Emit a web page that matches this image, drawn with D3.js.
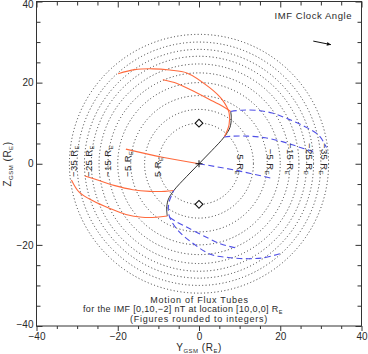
<!DOCTYPE html>
<html><head><meta charset="utf-8">
<script src="https://cdn.jsdelivr.net/npm/d3@7"></script>
<style>
body{margin:0;background:#fff}
svg{display:block}
text{font-family:"Liberation Sans",Arial,sans-serif;fill:#2a2a2a}
</style>
</head><body>
<svg id="c" width="368" height="354"></svg>
<script>
// ---- data ----
const xDomain = [-40, 40];
const yDomain = [-40, 40];
const tickMajor = [-40, -20, 0, 20, 40];
const tickMinor = [-35, -30, -25, -15, -10, -5, 5, 10, 15, 25, 30, 35];
const circleX = [10, 5, 0, -5, -10, -15, -20, -25, -30, -35];
const circleR = [10, 13.4, 16.8, 20.0, 22.4, 24.6, 26.5, 28.2, 30.0, 31.9];
const labelX = [5, -5, -15, -25, -35];
const labelR = [10.2, 17.6, 22.4, 27.1, 30.8];
const diamonds = [[0, 10], [0, -10]];
const imf = [0, 10, -2];
const location0 = [10, 0, 0];
const arrowCenter = [30.3, 29.8];

const orangeOuter = [[-19.9,22.2],[-15.8,23.2],[-11.4,23.4],[-7.2,23.1],[-3.0,22.4],[2.7,18.7],[5.7,15.8],[7.4,12.6],[7.4,9.6],[6.2,6.6]];
const orangeInner = [[-8.9,20.7],[-5.4,19.8],[-2.2,18.3],[2.7,15.8],[5.9,14.1],[7.8,12.9]];
const orangeLowOuter = [[-7.8,-12.9],[-10.5,-13.2],[-14,-13.2],[-18,-12.5],[-22,-11],[-26,-9.2],[-29.5,-7],[-31.4,-4]];
const orangeLowInner = [[-6.2,-6.6],[-8.4,-6.8],[-12.1,-6.8],[-16.3,-6.4],[-20.7,-5.4],[-24.4,-4.2],[-28.1,-3]];
const orangeCenter = [[0,0],[-9,1.6],[-18,3.6]];

const blueOuter = [[7.8,12.9],[10.5,13.2],[14,13.2],[18,12.5],[22,11],[26,9.2],[29.5,7],[31.4,4]];
const blueInner = [[6.2,6.6],[8.4,6.8],[12.1,6.8],[16.3,6.4],[20.7,5.4],[24.4,4.2],[28.1,3]];
const blueLowOuter = [[19.9,-22.2],[15.8,-23.2],[11.4,-23.4],[7.2,-23.1],[3.0,-22.4],[-2.7,-18.7],[-5.7,-15.8],[-7.4,-12.6],[-7.4,-9.6],[-6.2,-6.6]];
const blueLowInner = [[8.9,-20.7],[5.4,-19.8],[2.2,-18.3],[-2.7,-15.8],[-5.9,-14.1],[-7.8,-12.9]];
const blueCenter = [[0,0],[9,-1.6],[18,-3.6]];

const blackLine = [[-7.8,-12.9],[-7.95,-11.2],[-7.6,-8.9],[-6.2,-6.6],[-3.1,-3.2],[0,0],[3.1,3.2],[6.2,6.6],[7.6,8.9],[7.95,11.2],[7.8,12.9]];

const titleLines = ["Motion of Flux Tubes", "for the IMF [0,10,\u22122] nT at location [10,0,0] R", "(Figures rounded to integers)"];

// ---- chart ----
const svg = d3.select("#c");
const x = d3.scaleLinear().domain(xDomain).range([36.5, 361.5]);
const y = d3.scaleLinear().domain(yDomain).range([326, 1.5]);
const fmt = d => d < 0 ? "\u2212" + Math.abs(d) : String(d);

// circles
svg.append("g").selectAll("ellipse").data(circleR).join("ellipse")
  .attr("cx", x(0)).attr("cy", y(0))
  .attr("rx", r => x(r) - x(0)).attr("ry", r => y(0) - y(r))
  .attr("fill", "none").attr("stroke", "#333").attr("stroke-width", 1)
  .attr("stroke-dasharray", "1 2.4");

const line = d3.line().x(d => x(d[0])).y(d => y(d[1])).curve(d3.curveCatmullRom.alpha(0.5));

svg.append("path").attr("d", line(blackLine)).attr("fill", "none").attr("stroke", "#333").attr("stroke-width", 1);

const orange = "#ff6a3d", blue = "#5050e6";
[orangeOuter, orangeInner, orangeLowOuter, orangeLowInner, orangeCenter].forEach(c =>
  svg.append("path").attr("d", line(c)).attr("fill", "none").attr("stroke", orange).attr("stroke-width", 1.1));
[blueOuter, blueInner, blueLowOuter, blueLowInner, blueCenter].forEach(c =>
  svg.append("path").attr("d", line(c)).attr("fill", "none").attr("stroke", blue).attr("stroke-width", 1.1).attr("stroke-dasharray", "6 3.5"));

// diamonds
svg.append("g").selectAll("path").data(diamonds).join("path")
  .attr("d", d3.symbol(d3.symbolSquare, 30))
  .attr("transform", d => `translate(${x(d[0])},${y(d[1])}) rotate(45)`)
  .attr("fill", "#fff").attr("stroke", "#111").attr("stroke-width", 1.1);

// plus at origin
const pl = svg.append("g").attr("stroke", "#111").attr("stroke-width", 1);
pl.append("line").attr("x1", x(0) - 3.5).attr("x2", x(0) + 3.5).attr("y1", y(0)).attr("y2", y(0));
pl.append("line").attr("x1", x(0)).attr("x2", x(0)).attr("y1", y(0) - 3.5).attr("y2", y(0) + 3.5);

// circle labels
function addRE(t, prefix, sub, subSize, shift) {
  t.append("tspan").text(prefix);
  t.append("tspan").attr("font-size", subSize).attr("dy", shift).text(sub);
}
labelX.forEach((lx, i) => {
  const xl = x(-labelR[i]) + 3.4, yl = 177;
  const t1 = svg.append("text").attr("x", xl).attr("y", yl).attr("font-size", "9.5px").attr("letter-spacing", "0.4px")
    .attr("text-anchor", "start").attr("transform", `rotate(-90,${xl},${yl})`);
  addRE(t1, fmt(lx) + " R", "E", "6px", 2);
  const xr = x(labelR[i]) - 3.4, yr = 175;
  const t2 = svg.append("text").attr("x", xr).attr("y", yr).attr("font-size", "9.5px").attr("letter-spacing", "0.4px")
    .attr("text-anchor", "end").attr("transform", `rotate(90,${xr},${yr})`);
  addRE(t2, fmt(lx) + " R", "E", "6px", 2);
});

// IMF clock angle
svg.append("text").attr("x", 352).attr("y", 18.5).attr("text-anchor", "end")
  .attr("font-size", "9.5px").attr("letter-spacing", "0.55px").text("IMF Clock Angle");
{
  const len = Math.hypot(imf[1], imf[2]);
  const ux = imf[1] / len, uy = -imf[2] / len; // screen direction
  const cx = x(arrowCenter[0]), cy = y(arrowCenter[1]), L = 9;
  const x1 = cx - ux * L, y1 = cy - uy * L, x2 = cx + ux * L, y2 = cy + uy * L;
  svg.append("line").attr("x1", x1).attr("y1", y1).attr("x2", x2).attr("y2", y2).attr("stroke", "#111").attr("stroke-width", 1);
  const hx = -ux, hy = -uy, px = -uy, py = ux, hl = 4, hw = 2;
  svg.append("path").attr("d", `M${x2},${y2}L${x2 + hx*hl + px*hw},${y2 + hy*hl + py*hw}L${x2 + hx*hl - px*hw},${y2 + hy*hl - py*hw}Z`).attr("fill", "#111");
}

// title block
svg.append("text").attr("x", 199.5).attr("y", 303).attr("text-anchor", "middle")
  .attr("font-size", "9px").attr("letter-spacing", "0.75px").text(titleLines[0]);
{
  const t = svg.append("text").attr("x", 83).attr("y", 312.3).attr("text-anchor", "start")
    .attr("font-size", "9px").attr("letter-spacing", "0.35px");
  addRE(t, titleLines[1], "E", "5.5px", 2);
}
svg.append("text").attr("x", 199).attr("y", 321.5).attr("text-anchor", "middle")
  .attr("font-size", "9px").attr("letter-spacing", "0.75px").text(titleLines[2]);

// axes
const axCol = "#333";
function styleAxis(g) {
  g.select(".domain").remove();
  g.selectAll("line").attr("stroke", axCol);
  g.selectAll("text").attr("font-size", "10px").attr("font-family", "Liberation Sans, Arial, sans-serif").attr("fill", "#2a2a2a");
}
svg.append("g").attr("transform", `translate(0,${y(-40)})`)
  .call(d3.axisBottom(x).tickValues(tickMajor).tickFormat(fmt).tickSize(5).tickPadding(2)).call(styleAxis);
svg.append("g").attr("transform", `translate(0,${y(-40)})`)
  .call(d3.axisBottom(x).tickValues(tickMinor).tickFormat("").tickSize(3)).call(styleAxis);
svg.append("g").attr("transform", `translate(0,${y(40)})`)
  .call(d3.axisTop(x).tickValues(tickMajor).tickFormat("").tickSize(-6)).call(styleAxis);
svg.append("g").attr("transform", `translate(0,${y(40)})`)
  .call(d3.axisTop(x).tickValues(tickMinor).tickFormat("").tickSize(-4)).call(styleAxis);
const yAxG = svg.append("g").attr("transform", `translate(${x(-40)},0)`)
  .call(d3.axisLeft(y).tickValues(tickMajor).tickFormat(fmt).tickSize(-6).tickPadding(3)).call(styleAxis);
// keep the end labels inside the canvas, as in the reference
yAxG.selectAll(".tick").filter(d => d === 40).select("text").attr("dy", "0.62em");
yAxG.selectAll(".tick").filter(d => d === -40).select("text").attr("dy", "0.1em");
svg.append("g").attr("transform", `translate(${x(-40)},0)`)
  .call(d3.axisLeft(y).tickValues(tickMinor).tickFormat("").tickSize(-4)).call(styleAxis);
svg.append("g").attr("transform", `translate(${x(40)},0)`)
  .call(d3.axisRight(y).tickValues(tickMajor).tickFormat("").tickSize(-6)).call(styleAxis);
svg.append("g").attr("transform", `translate(${x(40)},0)`)
  .call(d3.axisRight(y).tickValues(tickMinor).tickFormat("").tickSize(-4)).call(styleAxis);
svg.append("rect").attr("x", x(-40)).attr("y", y(40)).attr("width", x(40) - x(-40)).attr("height", y(-40) - y(40))
  .attr("fill", "none").attr("stroke", axCol).attr("stroke-width", 1);

// axis titles
{
  const t = svg.append("text").attr("x", 199).attr("y", 351).attr("text-anchor", "middle")
    .attr("font-size", "10px").attr("letter-spacing", "0.5px");
  t.append("tspan").text("Y");
  t.append("tspan").attr("font-size", "6px").attr("dy", 2).text("GSM");
  t.append("tspan").attr("dy", -2).text(" (R");
  t.append("tspan").attr("font-size", "6px").attr("dy", 2).text("E");
  t.append("tspan").attr("dy", -2).text(")");
}
{
  const tx = 11, ty = 164;
  const t = svg.append("text").attr("x", tx).attr("y", ty).attr("text-anchor", "middle")
    .attr("font-size", "10px").attr("letter-spacing", "0.5px").attr("transform", `rotate(-90,${tx},${ty})`);
  t.append("tspan").text("Z");
  t.append("tspan").attr("font-size", "6px").attr("dy", 2).text("GSM");
  t.append("tspan").attr("dy", -2).text(" (R");
  t.append("tspan").attr("font-size", "6px").attr("dy", 2).text("E");
  t.append("tspan").attr("dy", -2).text(")");
}
</script>
</body></html>
